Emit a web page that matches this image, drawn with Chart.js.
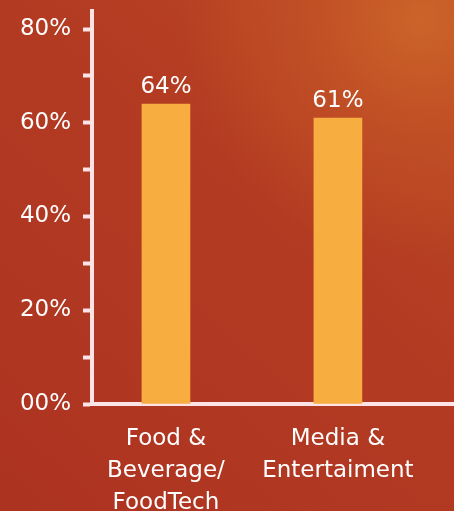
<!DOCTYPE html>
<html>
<head>
<meta charset="utf-8">
<script src="https://cdn.jsdelivr.net/npm/chart.js@4"></script>
<style>
  html, body { margin: 0; padding: 0; background: #b03722; }
  #wrap { width: 454px; height: 511px; position: relative; }
</style>
</head>
<body>
<div id="wrap"><canvas id="c" width="454" height="511"></canvas></div>
<script>
// ---- data ----
const categories = [
  ['Food &', 'Beverage/', 'FoodTech'],
  ['Media &', 'Entertaiment']
];
const values = [64, 61];
const valueLabels = ['64%', '61%'];
const yTickValues = [0, 10, 20, 30, 40, 50, 60, 70, 80];
const yTickLabels = ['00%', '', '20%', '', '40%', '', '60%', '', '80%'];

const FONT = '"DejaVu Sans"';
const AXIS = '#fce3e6';
const BAR = '#f8ad41';

const bgPlugin = {
  id: 'bg',
  beforeDraw(chart) {
    const { ctx, width, height } = chart;
    ctx.save();
    const g = ctx.createLinearGradient(width, 0, 0, height);
    g.addColorStop(0, '#bd4a25');
    g.addColorStop(0.4, '#b33b22');
    g.addColorStop(1, '#ad3321');
    ctx.fillStyle = g;
    ctx.fillRect(0, 0, width, height);
    const r = ctx.createRadialGradient(420, 20, 5, 420, 20, 240);
    r.addColorStop(0, 'rgba(206,104,42,0.85)');
    r.addColorStop(0.5, 'rgba(200,90,38,0.45)');
    r.addColorStop(1, 'rgba(200,90,38,0)');
    ctx.fillStyle = r;
    ctx.fillRect(0, 0, width, height);
    ctx.restore();
  }
};

const labelPlugin = {
  id: 'valueLabels',
  afterDatasetsDraw(chart) {
    const { ctx } = chart;
    const meta = chart.getDatasetMeta(0);
    ctx.save();
    ctx.font = '23px ' + FONT;
    ctx.fillStyle = '#ffffff';
    ctx.textAlign = 'center';
    ctx.textBaseline = 'alphabetic';
    meta.data.forEach((el, i) => {
      ctx.fillText(valueLabels[i], el.x, el.y - 11);
    });
    ctx.restore();
  }
};

new Chart(document.getElementById('c'), {
  type: 'bar',
  data: {
    datasets: [{
      data: values.map((v, i) => ({ x: i, y: v })),
      backgroundColor: BAR,
      borderWidth: 0,
      barThickness: 48
    }]
  },
  options: {
    responsive: false,
    animation: false,
    layout: { padding: { top: 11, left: 0, right: 0, bottom: 0 } },
    plugins: { legend: { display: false }, tooltip: { enabled: false } },
    scales: {
      x: {
        type: 'linear',
        offset: false,
        min: -0.43,
        max: 1.675,
        afterBuildTicks(scale) { scale.ticks = categories.map((_, i) => ({ value: i })); },
        afterFit(scale) { scale.height = 107; scale.paddingLeft = 0; scale.paddingRight = 0; },
        grid: { display: false, drawTicks: false },
        border: { display: true, color: AXIS, width: 4 },
        ticks: {
          color: '#ffffff',
          font: { family: FONT, size: 23, lineHeight: '32px' },
          padding: 19,
          maxRotation: 0,
          autoSkip: false,
          callback: (v) => categories[v]
        }
      },
      y: {
        min: 0,
        max: 83.84,
        afterBuildTicks(scale) { scale.ticks = yTickValues.map(v => ({ value: v })); },
        afterFit(scale) { scale.width = 92; scale.paddingTop = 0; scale.paddingBottom = 0; },
        grid: {
          display: true,
          drawOnChartArea: false,
          drawTicks: true,
          tickLength: 9,
          tickWidth: 4,
          tickColor: AXIS,
          color: AXIS
        },
        border: { display: true, color: AXIS, width: 4 },
        ticks: {
          color: '#ffffff',
          font: { family: FONT, size: 23 },
          padding: 12,
          autoSkip: false,
          callback: (v, i) => yTickLabels[yTickValues.indexOf(v)]
        }
      }
    }
  },
  plugins: [bgPlugin, labelPlugin]
});
</script>
</body>
</html>
